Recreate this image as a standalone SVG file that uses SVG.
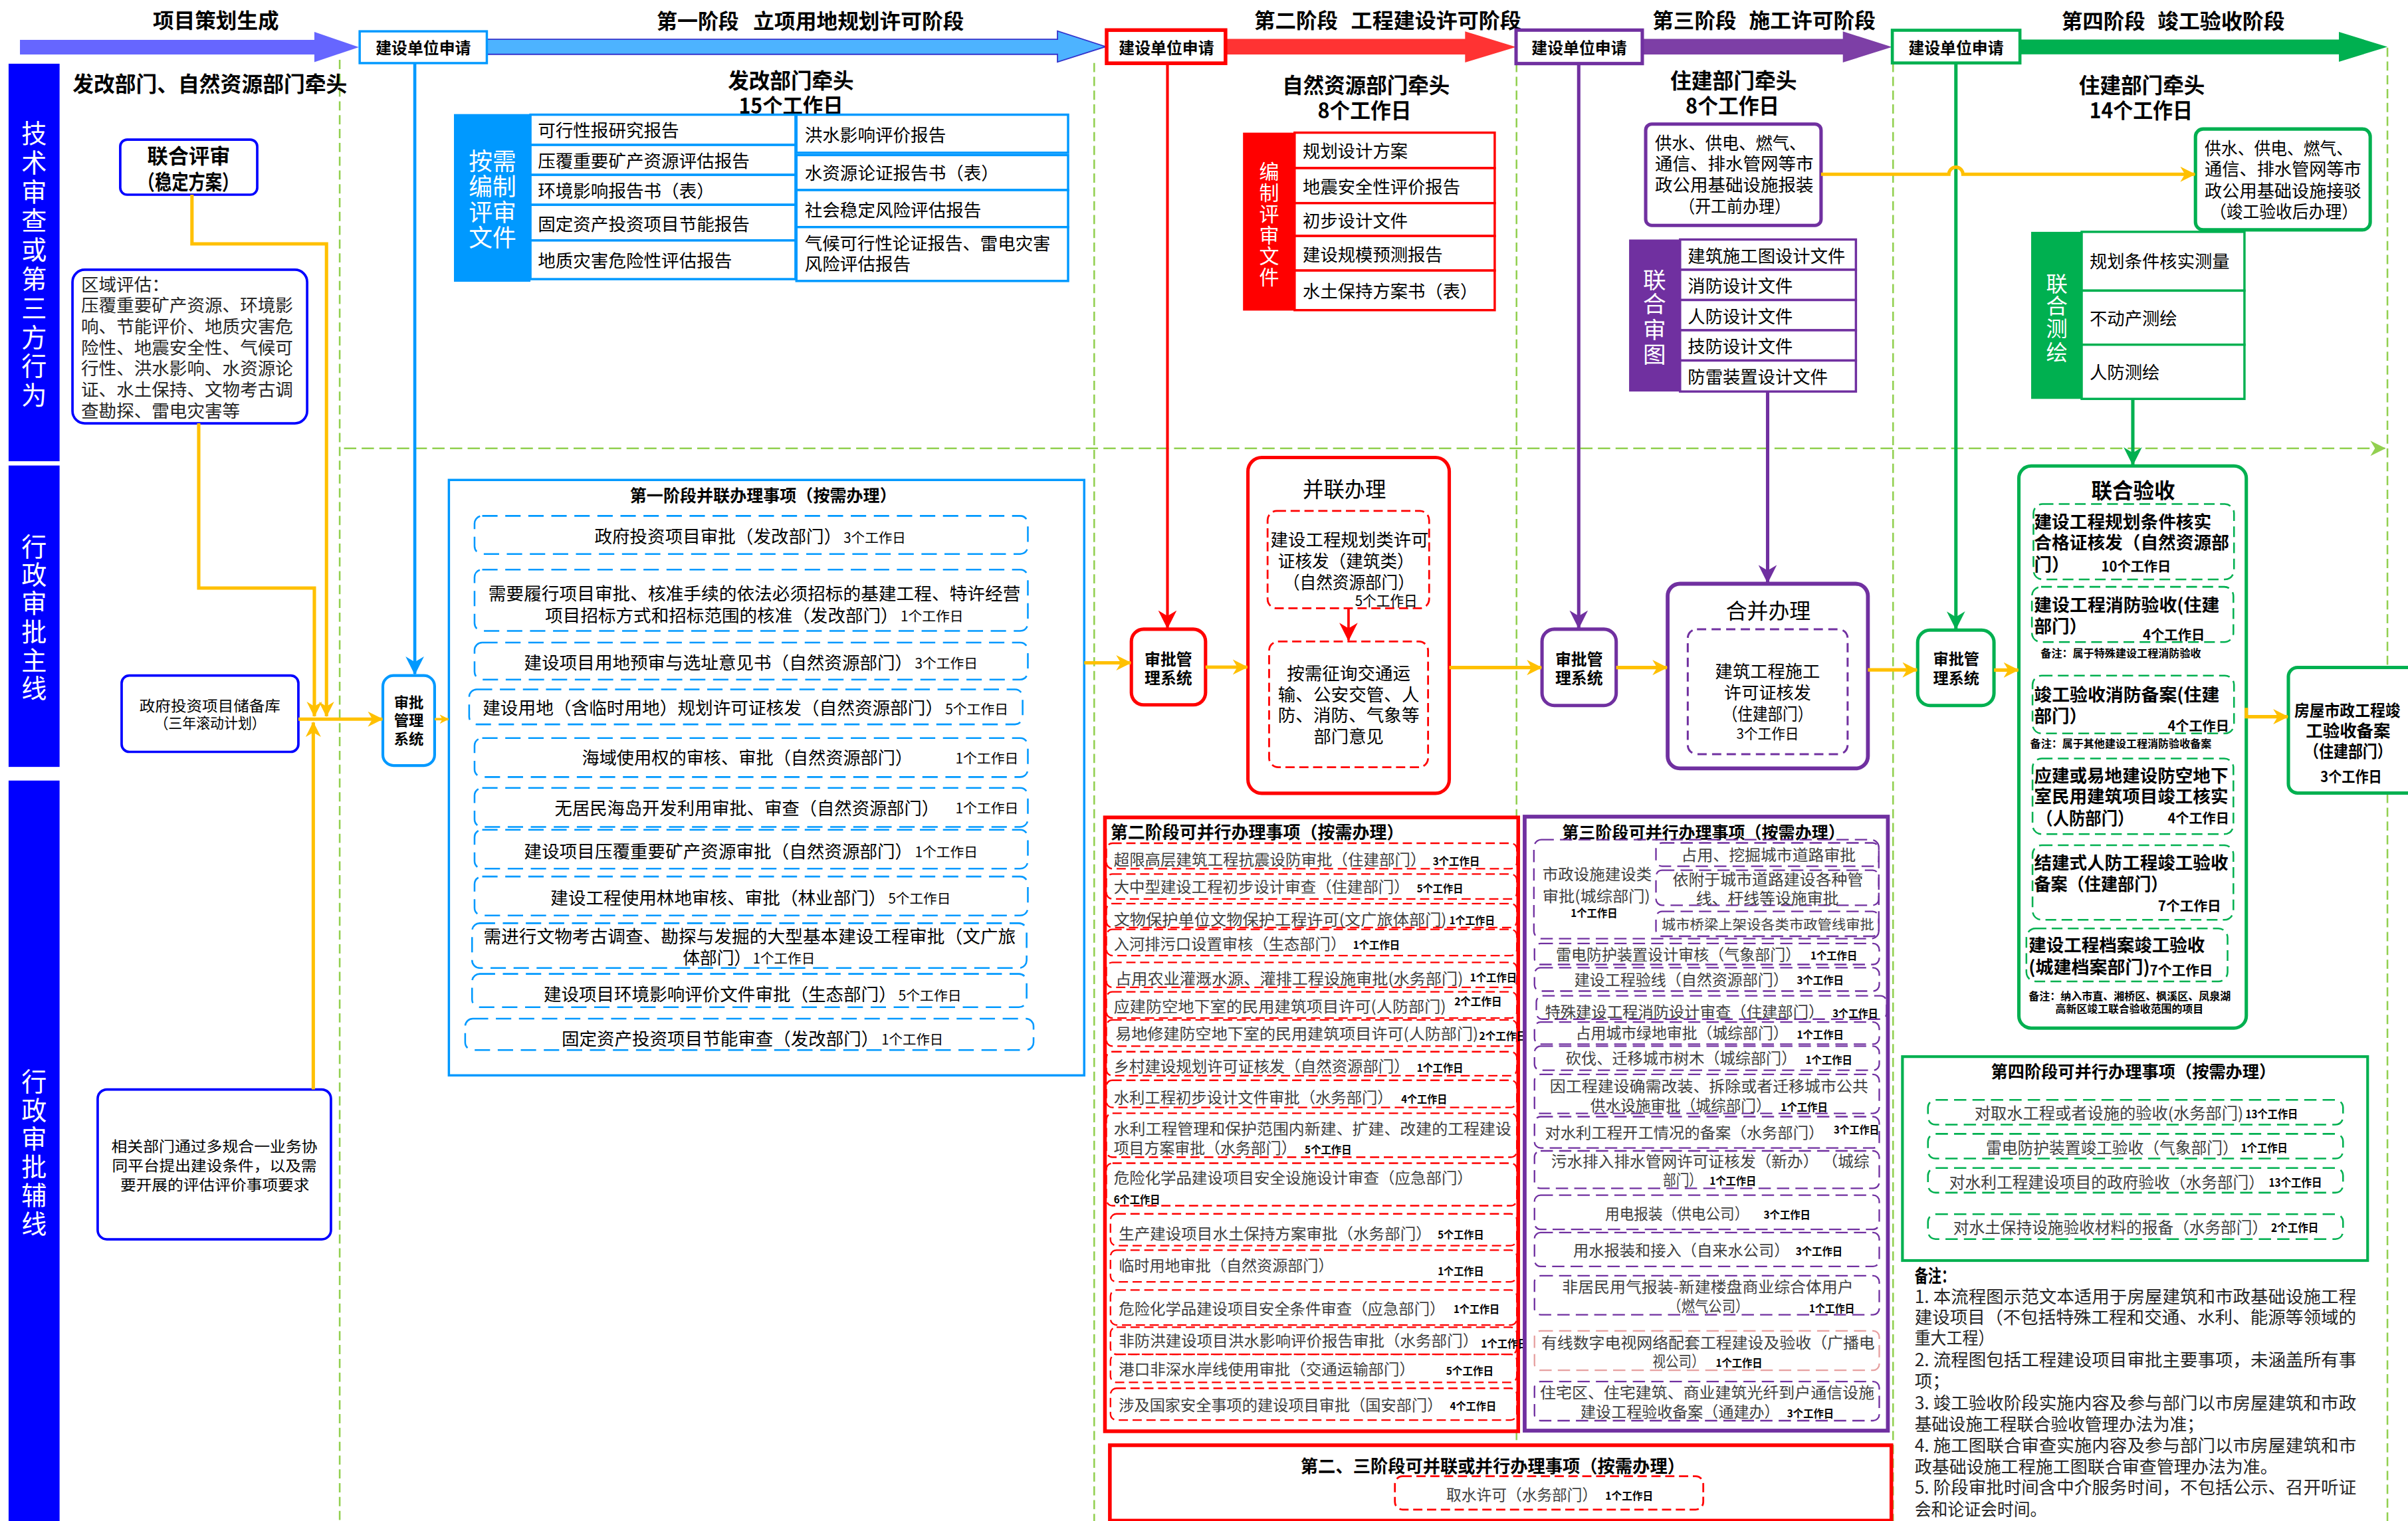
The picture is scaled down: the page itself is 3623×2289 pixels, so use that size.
<svg xmlns="http://www.w3.org/2000/svg" width="3623" height="2289" viewBox="0 0 3623 2289">
<defs>
<style>
text{font-family:"Noto Sans CJK SC","Noto Sans",sans-serif;dominant-baseline:central;fill:#000}
.b{font-weight:bold}
.m{text-anchor:middle}
.w{fill:#fff}
.g{fill:#404040}
.d{fill:#262626}
.guide{stroke:#92D050;stroke-width:1.1;stroke-dasharray:6 3;fill:none}
.yl{stroke:#FFC000;stroke-width:2.2;fill:none;marker-end:url(#ay)}
.cb{fill:#fff;stroke:#0099FF;stroke-width:1.5}
.cr{fill:#fff;stroke:#FF0000;stroke-width:1.5}
.cp{fill:#fff;stroke:#7030A0;stroke-width:1.5}
.cg{fill:#fff;stroke:#00B050;stroke-width:1.5}
.db{fill:none;stroke:#0099FF;stroke-width:1.1;stroke-dasharray:10 5}
.dr{fill:none;stroke:#FF0000;stroke-width:1;stroke-dasharray:6 3}
.dp{fill:none;stroke:#7030A0;stroke-width:1;stroke-dasharray:8 4}
.dg{fill:none;stroke:#00B050;stroke-width:1.1;stroke-dasharray:7 3.5}
.nb{fill:#fff;stroke:#0000FF;stroke-width:1.6}
</style>
<marker id="ay" viewBox="0 0 10 10" refX="9.5" refY="5" markerWidth="10" markerHeight="10" markerUnits="userSpaceOnUse" orient="auto"><path d="M0,0L10,5L0,10L3,5z" fill="#FFC000"/></marker>
<marker id="ays" viewBox="0 0 10 10" refX="9.5" refY="5" markerWidth="6" markerHeight="7" markerUnits="userSpaceOnUse" orient="auto"><path d="M0,0L10,5L0,10L3,5z" fill="#FFC000"/></marker>
<marker id="ab" viewBox="0 0 10 10" refX="9.5" refY="5" markerWidth="12" markerHeight="12" markerUnits="userSpaceOnUse" orient="auto"><path d="M0,0L10,5L0,10L3,5z" fill="#0099FF"/></marker>
<marker id="ar" viewBox="0 0 10 10" refX="9.5" refY="5" markerWidth="12" markerHeight="12" markerUnits="userSpaceOnUse" orient="auto"><path d="M0,0L10,5L0,10L3,5z" fill="#FF0000"/></marker>
<marker id="ap" viewBox="0 0 10 10" refX="9.5" refY="5" markerWidth="12" markerHeight="12" markerUnits="userSpaceOnUse" orient="auto"><path d="M0,0L10,5L0,10L3,5z" fill="#7030A0"/></marker>
<marker id="ag" viewBox="0 0 10 10" refX="9.5" refY="5" markerWidth="12" markerHeight="12" markerUnits="userSpaceOnUse" orient="auto"><path d="M0,0L10,5L0,10L3,5z" fill="#00B050"/></marker>
<marker id="al" viewBox="0 0 10 10" refX="9.5" refY="5" markerWidth="11" markerHeight="10" markerUnits="userSpaceOnUse" orient="auto"><path d="M0,0L10,5L0,10L3,5z" fill="#92D050"/></marker>
</defs>
<rect width="3623" height="2289" fill="#fff"/>
<g transform="scale(2.3106)">

<g id="guides">
<path class="guide" d="M221.2,39V991"/>
<path class="guide" d="M712.5,41V991"/>
<path class="guide" d="M987.5,41V991"/>
<path class="guide" d="M1232.7,41V991"/>
<path class="guide" d="M1554.6,31V991"/>
<path class="guide" d="M224,292H1553" style="stroke-dasharray:8 3.5;marker-end:url(#al)"/>
</g>

<g id="header">
<text class="b m" x="140.6" y="12.5" font-size="13.5" textLength="82" lengthAdjust="spacingAndGlyphs">项目策划生成</text>
<polygon points="13,26 204.7,26 204.7,20.8 233.7,30.7 204.7,40.5 204.7,35.5 13,35.5" fill="#6666FF"/>
<text class="b" x="427.6" y="12.6" font-size="13.5" textLength="53.6" lengthAdjust="spacingAndGlyphs">第一阶段</text>
<text class="b" x="490.5" y="12.6" font-size="13.5" textLength="137.2" lengthAdjust="spacingAndGlyphs">立项用地规划许可阶段</text>
<polygon points="317,25.6 688.6,25.6 688.6,20.2 720,30.4 688.6,40.4 688.6,35.4 317,35.4" fill="#4DB3FF" stroke="#3333CC" stroke-width="0.8"/>
<text class="b" x="816.7" y="12.4" font-size="13.5" textLength="54.5" lengthAdjust="spacingAndGlyphs">第二阶段</text>
<text class="b" x="879.7" y="12.4" font-size="13.5" textLength="110.9" lengthAdjust="spacingAndGlyphs">工程建设许可阶段</text>
<polygon points="798,25.3 954,25.3 954,20.5 987.2,30.6 954,40.7 954,35.5 798,35.5" fill="#FF3333"/>
<text class="b" x="1076" y="12.4" font-size="13.5" textLength="54.7" lengthAdjust="spacingAndGlyphs">第三阶段</text>
<text class="b" x="1138.9" y="12.4" font-size="13.5" textLength="82.4" lengthAdjust="spacingAndGlyphs">施工许可阶段</text>
<polygon points="1069.4,25.3 1200,25.3 1200,20.5 1232,30.6 1200,40.7 1200,35.5 1069.4,35.5" fill="#7D3FA6"/>
<text class="b" x="1342.4" y="12.6" font-size="13.5" textLength="54.6" lengthAdjust="spacingAndGlyphs">第四阶段</text>
<text class="b" x="1404.8" y="12.6" font-size="13.5" textLength="83" lengthAdjust="spacingAndGlyphs">竣工验收阶段</text>
<polygon points="1315.3,25.7 1523,25.7 1523,20.8 1554.6,30.5 1523,40.2 1523,35.4 1315.3,35.4" fill="#00B050"/>
</g>

<g id="apply1">
<rect x="234.2" y="20.4" width="82.8" height="20.7" fill="#fff" stroke="#0099FF" stroke-width="1.5"/>
<text class="b m" x="275.6" y="30.7" font-size="10.5" textLength="62" lengthAdjust="spacingAndGlyphs">建设单位申请</text>
</g>
<g id="apply2">
<rect x="720.6" y="19.6" width="77.4" height="21.6" fill="#fff" stroke="#FF0000" stroke-width="2.4"/>
<text class="b m" x="759.5" y="30.5" font-size="10.5" textLength="62" lengthAdjust="spacingAndGlyphs">建设单位申请</text>
</g>
<g id="apply3">
<rect x="987.2" y="19.6" width="82.2" height="21.8" fill="#fff" stroke="#7030A0" stroke-width="2.2"/>
<text class="b m" x="1028.3" y="30.5" font-size="10.5" textLength="62" lengthAdjust="spacingAndGlyphs">建设单位申请</text>
</g>
<g id="apply4">
<rect x="1232.2" y="19.7" width="83.1" height="21.3" fill="#fff" stroke="#00B050" stroke-width="2"/>
<text class="b m" x="1273.7" y="30.4" font-size="10.5" textLength="62" lengthAdjust="spacingAndGlyphs">建设单位申请</text>
</g>

<g id="leads">
<text class="b" x="47.3" y="53.5" font-size="13.7" textLength="178.7" lengthAdjust="spacingAndGlyphs">发改部门、自然资源部门牵头</text>
<text class="b" x="474" y="51.6" font-size="13.7" textLength="82" lengthAdjust="spacingAndGlyphs">发改部门牵头</text>
<text class="b" x="481" y="67.8" font-size="13.7" textLength="68" lengthAdjust="spacingAndGlyphs">15个工作日</text>
<text class="b" x="835" y="54.7" font-size="13.7" textLength="109" lengthAdjust="spacingAndGlyphs">自然资源部门牵头</text>
<text class="b" x="858" y="71" font-size="13.7" textLength="61" lengthAdjust="spacingAndGlyphs">8个工作日</text>
<text class="b" x="1087.6" y="51.3" font-size="13.7" textLength="82.4" lengthAdjust="spacingAndGlyphs">住建部门牵头</text>
<text class="b" x="1097.6" y="67.8" font-size="13.7" textLength="61" lengthAdjust="spacingAndGlyphs">8个工作日</text>
<text class="b" x="1353.7" y="54.6" font-size="13.7" textLength="82" lengthAdjust="spacingAndGlyphs">住建部门牵头</text>
<text class="b" x="1360.6" y="71" font-size="13.7" textLength="67.2" lengthAdjust="spacingAndGlyphs">14个工作日</text>
</g>

<g id="lanes">
<rect x="5.6" y="41.5" width="33.2" height="258.9" fill="#0000FF"/>
<rect x="5.6" y="303.2" width="33.2" height="196.3" fill="#0000FF"/>
<rect x="5.6" y="508.4" width="33.2" height="486" fill="#0000FF"/>
<text class="m w" font-size="16.5"><tspan x="22.2" y="85.8">技</tspan><tspan x="22.2" y="104.7">术</tspan><tspan x="22.2" y="123.7">审</tspan><tspan x="22.2" y="142.6">查</tspan><tspan x="22.2" y="161.6">或</tspan><tspan x="22.2" y="180.5">第</tspan><tspan x="22.2" y="199.4">三</tspan><tspan x="22.2" y="218.4">方</tspan><tspan x="22.2" y="237.3">行</tspan><tspan x="22.2" y="256.3">为</tspan></text>
<text class="m w" font-size="16.5"><tspan x="22.2" y="354.7">行</tspan><tspan x="22.2" y="373.2">政</tspan><tspan x="22.2" y="391.7">审</tspan><tspan x="22.2" y="410.2">批</tspan><tspan x="22.2" y="428.7">主</tspan><tspan x="22.2" y="447.2">线</tspan></text>
<text class="m w" font-size="16.5"><tspan x="22.2" y="703.3">行</tspan><tspan x="22.2" y="721.8">政</tspan><tspan x="22.2" y="740.3">审</tspan><tspan x="22.2" y="758.8">批</tspan><tspan x="22.2" y="777.3">辅</tspan><tspan x="22.2" y="795.8">线</tspan></text>
</g>

<g id="joint-review">
<rect class="nb" x="78.3" y="90.9" width="89.2" height="35.9" rx="4.5"/>
<text class="b m" x="122.9" y="100.8" font-size="13.5" textLength="54" lengthAdjust="spacingAndGlyphs">联合评审</text>
<text class="b m" x="122.7" y="117.5" font-size="13.5" textLength="65.7" lengthAdjust="spacingAndGlyphs">（稳定方案）</text>
</g>

<g id="regional">
<rect class="nb" x="47.2" y="175.7" width="152.8" height="100" rx="8"/>
<text class="d" x="52.8" y="184.4" font-size="11.5">区域评估：</text>
<text class="d" x="52.8" y="198.1" font-size="11.5" textLength="138" lengthAdjust="spacingAndGlyphs">压覆重要矿产资源、环境影</text>
<text class="d" x="52.8" y="211.8" font-size="11.5" textLength="138" lengthAdjust="spacingAndGlyphs">响、节能评价、地质灾害危</text>
<text class="d" x="52.8" y="225.5" font-size="11.5" textLength="138" lengthAdjust="spacingAndGlyphs">险性、地震安全性、气候可</text>
<text class="d" x="52.8" y="239.2" font-size="11.5" textLength="138" lengthAdjust="spacingAndGlyphs">行性、洪水影响、水资源论</text>
<text class="d" x="52.8" y="252.9" font-size="11.5" textLength="138" lengthAdjust="spacingAndGlyphs">证、水土保持、文物考古调</text>
<text class="d" x="52.8" y="266.6" font-size="11.5" textLength="103.5" lengthAdjust="spacingAndGlyphs">查勘探、雷电灾害等</text>
</g>

<g id="reserve">
<rect class="nb" x="79.2" y="440" width="115.1" height="49.7" rx="5"/>
<text class="m" x="136.7" y="458.8" font-size="9.5" fill="#333" textLength="91.8" lengthAdjust="spacingAndGlyphs">政府投资项目储备库</text>
<text class="m" x="136.8" y="470.4" font-size="9.5" fill="#333" textLength="72.4" lengthAdjust="spacingAndGlyphs">（三年滚动计划）</text>
</g>

<g id="aux">
<rect class="nb" x="63.6" y="709.6" width="151.9" height="97.6" rx="6"/>
<text class="m" x="139.6" y="746" font-size="9.5" fill="#333" textLength="134.2" lengthAdjust="spacingAndGlyphs">相关部门通过多规合一业务协</text>
<text class="m" x="139.6" y="758.4" font-size="9.5" fill="#333" textLength="133.3" lengthAdjust="spacingAndGlyphs">同平台提出建设条件，以及需</text>
<text class="m" x="139.9" y="770.8" font-size="9.5" fill="#333" textLength="123.2" lengthAdjust="spacingAndGlyphs">要开展的评估评价事项要求</text>
</g>

<g id="sys1">
<rect x="249.3" y="440" width="33.7" height="58.6" rx="7" fill="#fff" stroke="#0099FF" stroke-width="1.8"/>
<text class="b m" x="266.2" y="456.6" font-size="9.5" textLength="19.4" lengthAdjust="spacingAndGlyphs">审批</text>
<text class="b m" x="266.2" y="468.4" font-size="9.5" textLength="19.4" lengthAdjust="spacingAndGlyphs">管理</text>
<text class="b m" x="266.2" y="480.8" font-size="9.5" textLength="19.4" lengthAdjust="spacingAndGlyphs">系统</text>
</g>

<g id="docs1">
<rect x="295.6" y="74.3" width="49.8" height="109.2" fill="#0099FF"/>
<text class="m w" font-size="15.5"><tspan x="320.7" y="103.9">按需</tspan><tspan x="320.7" y="120.4">编制</tspan><tspan x="320.7" y="137">评审</tspan><tspan x="320.7" y="153.6">文件</tspan></text>
<rect class="cb" x="345.4" y="74.7" width="172.6" height="19.7"/>
<rect class="cb" x="345.4" y="94.4" width="172.6" height="19.5"/>
<rect class="cb" x="345.4" y="113.9" width="172.6" height="19.5"/>
<rect class="cb" x="345.4" y="133.4" width="172.6" height="23.2"/>
<rect class="cb" x="345.4" y="156.6" width="172.6" height="25.2"/>
<rect class="cb" x="518.6" y="74.7" width="176.9" height="24.8"/>
<rect class="cb" x="518.6" y="101" width="176.9" height="22.8"/>
<rect class="cb" x="518.6" y="123.8" width="176.9" height="24.1"/>
<rect class="cb" x="518.6" y="147.9" width="176.9" height="35.1"/>
<text x="350.2" y="84.3" font-size="11.5" fill="#333">可行性报研究报告</text>
<text x="350.2" y="104" font-size="11.5" fill="#333">压覆重要矿产资源评估报告</text>
<text x="350.2" y="123.6" font-size="11.5" fill="#333">环境影响报告书（表）</text>
<text x="350.2" y="145" font-size="11.5" fill="#333">固定资产投资项目节能报告</text>
<text x="350.2" y="169.2" font-size="11.5" fill="#333">地质灾害危险性评估报告</text>
<text x="524" y="87" font-size="11.5" fill="#333">洪水影响评价报告</text>
<text x="524" y="112" font-size="11.5" fill="#333">水资源论证报告书（表）</text>
<text x="524" y="136" font-size="11.5" fill="#333">社会稳定风险评估报告</text>
<text x="524" y="157.7" font-size="11.5" fill="#333" textLength="160" lengthAdjust="spacingAndGlyphs">气候可行性论证报告、雷电灾害</text>
<text x="524" y="171.3" font-size="11.5" fill="#333">风险评估报告</text>
</g>

<g id="docs2">
<rect x="809.4" y="86.4" width="33.6" height="115.9" fill="#FF0000"/>
<text class="m w" font-size="13"><tspan x="826.4" y="110.7">编</tspan><tspan x="826.4" y="124.7">制</tspan><tspan x="826.4" y="138.6">评</tspan><tspan x="826.4" y="152.3">审</tspan><tspan x="826.4" y="165.8">文</tspan><tspan x="826.4" y="179.4">件</tspan></text>
<rect class="cr" x="843" y="86.4" width="130.3" height="23.1"/>
<rect class="cr" x="843" y="109.5" width="130.3" height="22.8"/>
<rect class="cr" x="843" y="132.3" width="130.3" height="21.4"/>
<rect class="cr" x="843" y="153.7" width="130.3" height="22.5"/>
<rect class="cr" x="843" y="176.2" width="130.3" height="25.8"/>
<text x="848.3" y="97.5" font-size="11.4" fill="#333">规划设计方案</text>
<text x="848.3" y="120.9" font-size="11.4" fill="#333">地震安全性评价报告</text>
<text x="848.3" y="143" font-size="11.4" fill="#333">初步设计文件</text>
<text x="848.3" y="165" font-size="11.4" fill="#333">建设规模预测报告</text>
<text x="848.3" y="189.1" font-size="11.4" fill="#333">水土保持方案书（表）</text>
</g>

<g id="utility3">
<rect x="1071.6" y="80.8" width="114.2" height="66" rx="4" fill="#fff" stroke="#7030A0" stroke-width="2.2"/>
<text x="1077.6" y="92.4" font-size="11.4" fill="#333" textLength="98.4" lengthAdjust="spacingAndGlyphs">供水、供电、燃气、</text>
<text x="1077.6" y="106" font-size="11.4" fill="#333" textLength="103.3" lengthAdjust="spacingAndGlyphs">通信、排水管网等市</text>
<text x="1077.6" y="119.8" font-size="11.4" fill="#333" textLength="103.3" lengthAdjust="spacingAndGlyphs">政公用基础设施报装</text>
<text class="m" x="1129.6" y="133.5" font-size="11.4" fill="#333" textLength="72.6" lengthAdjust="spacingAndGlyphs">（开工前办理）</text>
</g>

<g id="drawings3">
<rect x="1060.8" y="156" width="33.2" height="99" fill="#7030A0"/>
<text class="m w" font-size="15"><tspan x="1077.4" y="181.2">联</tspan><tspan x="1077.4" y="196.8">合</tspan><tspan x="1077.4" y="213.6">审</tspan><tspan x="1077.4" y="230">图</tspan></text>
<rect class="cp" x="1094" y="156" width="114.5" height="19.7"/>
<rect class="cp" x="1094" y="175.7" width="114.5" height="19.7"/>
<rect class="cp" x="1094" y="195.4" width="114.5" height="19.7"/>
<rect class="cp" x="1094" y="215.1" width="114.5" height="19.7"/>
<rect class="cp" x="1094" y="234.8" width="114.5" height="20.2"/>
<text x="1099" y="165.9" font-size="11.4" fill="#333">建筑施工图设计文件</text>
<text x="1099" y="185.6" font-size="11.4" fill="#333">消防设计文件</text>
<text x="1099" y="205.3" font-size="11.4" fill="#333">人防设计文件</text>
<text x="1099" y="225" font-size="11.4" fill="#333">技防设计文件</text>
<text x="1099" y="244.9" font-size="11.4" fill="#333">防雷装置设计文件</text>
</g>

<g id="utility4">
<rect x="1429.6" y="84" width="113.8" height="65.7" rx="5" fill="#fff" stroke="#00B050" stroke-width="2.2"/>
<text x="1435.6" y="96" font-size="11.3" fill="#333" textLength="96.5" lengthAdjust="spacingAndGlyphs">供水、供电、燃气、</text>
<text x="1435.6" y="109.7" font-size="11.3" fill="#333" textLength="102" lengthAdjust="spacingAndGlyphs">通信、排水管网等市</text>
<text x="1435.6" y="123.6" font-size="11.3" fill="#333" textLength="102" lengthAdjust="spacingAndGlyphs">政公用基础设施接驳</text>
<text x="1439" y="137.2" font-size="11.3" fill="#333" textLength="96.5" lengthAdjust="spacingAndGlyphs">（竣工验收后办理）</text>
</g>

<g id="survey4">
<rect x="1322.6" y="151" width="32.9" height="108.8" fill="#00B050"/>
<text class="m w" font-size="14"><tspan x="1339.3" y="183.5">联</tspan><tspan x="1339.3" y="198">合</tspan><tspan x="1339.3" y="212.6">测</tspan><tspan x="1339.3" y="228">绘</tspan></text>
<rect class="cg" x="1355.5" y="151" width="106" height="38.3"/>
<rect class="cg" x="1355.5" y="189.3" width="106" height="35.2"/>
<rect class="cg" x="1355.5" y="224.5" width="106" height="35.3"/>
<text x="1360.7" y="169.6" font-size="11.4" fill="#333">规划条件核实测量</text>
<text x="1360.7" y="206.7" font-size="11.4" fill="#333">不动产测绘</text>
<text x="1360.7" y="241.5" font-size="11.4" fill="#333">人防测绘</text>
</g>

<g id="parallel1">
<rect x="292.3" y="312.6" width="413.7" height="387.8" fill="#fff" stroke="#0099FF" stroke-width="1.5"/>
<text class="b" x="410.2" y="322" font-size="10.8" textLength="173.5" lengthAdjust="spacingAndGlyphs">第一阶段并联办理事项（按需办理）</text>
<rect class="db" x="309" y="336" width="360.3" height="24.8" rx="5"/>
<text x="387.1" y="348.7" font-size="11.5" textLength="160.9" lengthAdjust="spacingAndGlyphs">政府投资项目审批（发改部门）</text>
<text x="549.3" y="349.5" font-size="9" textLength="40.5" lengthAdjust="spacingAndGlyphs">3个工作日</text>
<rect class="db" x="309" y="371" width="360.3" height="39.9" rx="5"/>
<text x="318" y="386" font-size="11.5" textLength="346.5" lengthAdjust="spacingAndGlyphs">需要履行项目审批、核准手续的依法必须招标的基建工程、特许经营</text>
<text x="355" y="400" font-size="11.5" textLength="230" lengthAdjust="spacingAndGlyphs">项目招标方式和招标范围的核准（发改部门）</text>
<text x="586.4" y="400.8" font-size="9" textLength="41" lengthAdjust="spacingAndGlyphs">1个工作日</text>
<rect class="db" x="309" y="418.5" width="360.3" height="24.1" rx="5"/>
<text x="341.3" y="430.7" font-size="11.5" textLength="253" lengthAdjust="spacingAndGlyphs">建设项目用地预审与选址意见书（自然资源部门）</text>
<text x="595.7" y="431.4" font-size="9" textLength="41" lengthAdjust="spacingAndGlyphs">3个工作日</text>
<rect class="db" x="305.5" y="449" width="360.4" height="22.8" rx="5"/>
<text x="314.3" y="460.4" font-size="11.5" textLength="299.9" lengthAdjust="spacingAndGlyphs">建设用地（含临时用地）规划许可证核发（自然资源部门）</text>
<text x="615.5" y="461.2" font-size="9" textLength="41.1" lengthAdjust="spacingAndGlyphs">5个工作日</text>
<rect class="db" x="309" y="480.7" width="360.3" height="25.4" rx="5"/>
<text x="378.9" y="492.9" font-size="11.5" textLength="215.4" lengthAdjust="spacingAndGlyphs">海域使用权的审核、审批（自然资源部门）</text>
<text x="622.1" y="493.3" font-size="9" textLength="41.1" lengthAdjust="spacingAndGlyphs">1个工作日</text>
<rect class="db" x="309" y="513.2" width="360.3" height="25.4" rx="5"/>
<text x="361.2" y="525.6" font-size="11.5" textLength="250.4" lengthAdjust="spacingAndGlyphs">无居民海岛开发利用审批、审查（自然资源部门）</text>
<text x="622.1" y="526" font-size="9" textLength="41.1" lengthAdjust="spacingAndGlyphs">1个工作日</text>
<rect class="db" x="309" y="540.4" width="360.3" height="25.4" rx="5"/>
<text x="341.3" y="553.8" font-size="11.5" textLength="253" lengthAdjust="spacingAndGlyphs">建设项目压覆重要矿产资源审批（自然资源部门）</text>
<text x="595.7" y="554.6" font-size="9" textLength="41" lengthAdjust="spacingAndGlyphs">1个工作日</text>
<rect class="db" x="309" y="570.9" width="360.3" height="25.4" rx="5"/>
<text x="358.5" y="584" font-size="11.5" textLength="218.6" lengthAdjust="spacingAndGlyphs">建设工程使用林地审核、审批（林业部门）</text>
<text x="578.4" y="584.8" font-size="9" textLength="40.6" lengthAdjust="spacingAndGlyphs">5个工作日</text>
<rect class="db" x="307.4" y="601.3" width="361.1" height="29.2" rx="5"/>
<text x="314.8" y="609" font-size="11.5" textLength="346.6" lengthAdjust="spacingAndGlyphs">需进行文物考古调查、勘探与发掘的大型基本建设工程审批（文广旅</text>
<text x="444.6" y="622.9" font-size="11.5" textLength="44.5" lengthAdjust="spacingAndGlyphs">体部门）</text>
<text x="490.2" y="623.7" font-size="9" textLength="40.5" lengthAdjust="spacingAndGlyphs">1个工作日</text>
<rect class="db" x="307.4" y="634.3" width="361.1" height="21.7" rx="5"/>
<text x="354" y="647" font-size="11.5" textLength="229.7" lengthAdjust="spacingAndGlyphs">建设项目环境影响评价文件审批（生态部门）</text>
<text x="585" y="647.8" font-size="9" textLength="41.1" lengthAdjust="spacingAndGlyphs">5个工作日</text>
<rect class="db" x="302.9" y="663.5" width="370.1" height="20.4" rx="5"/>
<text x="365.7" y="675.7" font-size="11.5" textLength="206.6" lengthAdjust="spacingAndGlyphs">固定资产投资项目节能审查（发改部门）</text>
<text x="574" y="676.5" font-size="9" textLength="40.2" lengthAdjust="spacingAndGlyphs">1个工作日</text>
</g>

<g id="sys2">
<rect x="736.7" y="409.8" width="48.3" height="49.3" rx="8" fill="#fff" stroke="#FF0000" stroke-width="2.2"/>
<text class="b m" x="760.8" y="428.6" font-size="10.3" textLength="31" lengthAdjust="spacingAndGlyphs">审批管</text>
<text class="b m" x="760.8" y="441" font-size="10.3" textLength="31" lengthAdjust="spacingAndGlyphs">理系统</text>
</g>

<g id="parallel-handling">
<rect x="812.6" y="298" width="131.1" height="218.7" rx="9" fill="#fff" stroke="#FF0000" stroke-width="2.2"/>
<text class="m" x="875.4" y="317.6" font-size="14" textLength="54.2" lengthAdjust="spacingAndGlyphs">并联办理</text>
<rect class="dr" x="825.4" y="332.8" width="105.2" height="63.4" rx="6" style="stroke-width:1.2"/>
<text class="m" x="878.8" y="350.6" font-size="11.5" textLength="103" lengthAdjust="spacingAndGlyphs">建设工程规划类许可</text>
<text class="m" x="876.5" y="364.5" font-size="11.5" textLength="88.7" lengthAdjust="spacingAndGlyphs">证核发（建筑类）</text>
<text class="m" x="878.3" y="378.4" font-size="11.5" textLength="85.2" lengthAdjust="spacingAndGlyphs">（自然资源部门）</text>
<text x="882.3" y="390.7" font-size="9.5" textLength="40.7" lengthAdjust="spacingAndGlyphs">5个工作日</text>
<rect class="dr" x="826.4" y="417.8" width="103.5" height="81.9" rx="6" style="stroke-width:1.2"/>
<text class="m" x="878.2" y="437.9" font-size="11.5" textLength="80.4" lengthAdjust="spacingAndGlyphs">按需征询交通运</text>
<text class="m" x="878.2" y="451.8" font-size="11.5" textLength="92.1" lengthAdjust="spacingAndGlyphs">输、公安交管、人</text>
<text class="m" x="878.2" y="465" font-size="11.5" textLength="92.1" lengthAdjust="spacingAndGlyphs">防、消防、气象等</text>
<text class="m" x="878.2" y="478.9" font-size="11.5" textLength="45.6" lengthAdjust="spacingAndGlyphs">部门意见</text>
</g>

<g id="sys3">
<rect x="1004.1" y="409.8" width="48.3" height="49.7" rx="8" fill="#fff" stroke="#7030A0" stroke-width="2.2"/>
<text class="b m" x="1028.2" y="428.6" font-size="10.3" textLength="31" lengthAdjust="spacingAndGlyphs">审批管</text>
<text class="b m" x="1028.2" y="441" font-size="10.3" textLength="31" lengthAdjust="spacingAndGlyphs">理系统</text>
</g>

<g id="merged-handling">
<rect x="1085.9" y="380.2" width="130.4" height="120.3" rx="8" fill="#fff" stroke="#7030A0" stroke-width="2.5"/>
<text class="m" x="1151.4" y="396.6" font-size="14" textLength="55.2" lengthAdjust="spacingAndGlyphs">合并办理</text>
<rect x="1099" y="409.8" width="104.1" height="81.4" rx="6" fill="none" stroke="#7030A0" stroke-width="1.3" stroke-dasharray="6 3.5"/>
<text class="m" x="1151" y="436.3" font-size="11.5" textLength="68.3" lengthAdjust="spacingAndGlyphs">建筑工程施工</text>
<text class="m" x="1151" y="450.3" font-size="11.5" textLength="56.6" lengthAdjust="spacingAndGlyphs">许可证核发</text>
<text class="m" x="1151" y="464.2" font-size="11.5" textLength="58.7" lengthAdjust="spacingAndGlyphs">（住建部门）</text>
<text class="m" x="1151" y="477.3" font-size="9.5" textLength="40.7" lengthAdjust="spacingAndGlyphs">3个工作日</text>
</g>

<g id="sys4">
<rect x="1248.7" y="410.4" width="49.7" height="49.1" rx="8" fill="#fff" stroke="#00B050" stroke-width="2.2"/>
<text class="b m" x="1273.8" y="428.4" font-size="10" textLength="30.1" lengthAdjust="spacingAndGlyphs">审批管</text>
<text class="b m" x="1273.8" y="440.8" font-size="10" textLength="30.1" lengthAdjust="spacingAndGlyphs">理系统</text>
</g>

<g id="joint-acceptance">
<rect x="1314.6" y="303.5" width="148.1" height="366.1" rx="8" fill="#fff" stroke="#00B050" stroke-width="2.2"/>
<text class="b m" x="1389" y="318.6" font-size="13.6" textLength="54.5" lengthAdjust="spacingAndGlyphs">联合验收</text>
<rect class="dg" x="1324.1" y="328.3" width="130.6" height="49.1" rx="6"/>
<text class="b" x="1324.5" y="339.2" font-size="11.5" textLength="115.5" lengthAdjust="spacingAndGlyphs">建设工程规划条件核实</text>
<text class="b" x="1324.5" y="352.6" font-size="11.5" textLength="127" lengthAdjust="spacingAndGlyphs">合格证核发（自然资源部</text>
<text class="b" x="1324.5" y="366.7" font-size="11.5">门）</text>
<text class="b" x="1368.3" y="368.4" font-size="9" textLength="45.3" lengthAdjust="spacingAndGlyphs">10个工作日</text>
<rect class="dg" x="1323.1" y="382.2" width="131.2" height="36" rx="6"/>
<text class="b" x="1324.5" y="393.4" font-size="11.5" textLength="120.7" lengthAdjust="spacingAndGlyphs">建设工程消防验收(住建</text>
<text class="b" x="1324.5" y="407.2" font-size="11.5">部门）</text>
<text class="b" x="1395.3" y="412.8" font-size="9" textLength="40.4" lengthAdjust="spacingAndGlyphs">4个工作日</text>
<text class="b" x="1328.8" y="425" font-size="7" textLength="104.4" lengthAdjust="spacingAndGlyphs">备注：属于特殊建设工程消防验收</text>
<rect class="dg" x="1323.5" y="440" width="131.2" height="37.7" rx="6"/>
<text class="b" x="1324.5" y="451.7" font-size="11.5" textLength="120.7" lengthAdjust="spacingAndGlyphs">竣工验收消防备案(住建</text>
<text class="b" x="1324.5" y="465.5" font-size="11.5">部门）</text>
<text class="b" x="1411.5" y="472.3" font-size="9" textLength="40" lengthAdjust="spacingAndGlyphs">4个工作日</text>
<text class="b" x="1322" y="483.8" font-size="7" textLength="118" lengthAdjust="spacingAndGlyphs">备注：属于其他建设工程消防验收备案</text>
<rect class="dg" x="1323.5" y="494" width="130.8" height="49.3" rx="6"/>
<text class="b" x="1324.5" y="504.4" font-size="11.5" textLength="126.4" lengthAdjust="spacingAndGlyphs">应建或易地建设防空地下</text>
<text class="b" x="1324.5" y="517.8" font-size="11.5" textLength="126.4" lengthAdjust="spacingAndGlyphs">室民用建筑项目竣工核实</text>
<text class="b" x="1326.2" y="532.3" font-size="11.5" textLength="63.2" lengthAdjust="spacingAndGlyphs">（人防部门）</text>
<text class="b" x="1411.5" y="532.3" font-size="9" textLength="40" lengthAdjust="spacingAndGlyphs">4个工作日</text>
<rect class="dg" x="1323.5" y="550.5" width="130.8" height="48.6" rx="6"/>
<text class="b" x="1324.5" y="561" font-size="11.5" textLength="126.4" lengthAdjust="spacingAndGlyphs">结建式人防工程竣工验收</text>
<text class="b" x="1324.5" y="574.8" font-size="11.5" textLength="87" lengthAdjust="spacingAndGlyphs">备案（住建部门）</text>
<text class="b" x="1405.2" y="589.4" font-size="9" textLength="41.1" lengthAdjust="spacingAndGlyphs">7个工作日</text>
<rect class="dg" x="1319.5" y="604.7" width="131" height="34.5" rx="6"/>
<text class="b" x="1321" y="614.9" font-size="11.5" textLength="114.7" lengthAdjust="spacingAndGlyphs">建设工程档案竣工验收</text>
<text class="b" x="1321" y="629" font-size="11.5" textLength="78.9" lengthAdjust="spacingAndGlyphs">(城建档案部门)</text>
<text class="b" x="1399.9" y="631.4" font-size="9" textLength="41.1" lengthAdjust="spacingAndGlyphs">7个工作日</text>
<text class="b m" x="1386.8" y="648.4" font-size="7" textLength="131.6" lengthAdjust="spacingAndGlyphs">备注：纳入市直、湘桥区、枫溪区、凤泉湖</text>
<text class="b m" x="1386.6" y="656.7" font-size="7" textLength="96.3" lengthAdjust="spacingAndGlyphs">高新区竣工联合验收范围的项目</text>
</g>

<g id="filing">
<rect x="1490.1" y="434.7" width="95" height="81.8" rx="6" fill="#fff" stroke="#00B050" stroke-width="2.2"/>
<text class="b m" x="1528.5" y="461.8" font-size="10.5" textLength="69" lengthAdjust="spacingAndGlyphs">房屋市政工程竣</text>
<text class="b m" x="1529" y="475.2" font-size="11" textLength="55" lengthAdjust="spacingAndGlyphs">工验收备案</text>
<text class="b m" x="1529" y="488.6" font-size="11" textLength="57" lengthAdjust="spacingAndGlyphs">（住建部门）</text>
<text class="b m" x="1531" y="505" font-size="9.6" textLength="40" lengthAdjust="spacingAndGlyphs">3个工作日</text>
</g>

<g id="parallel2">
<rect x="719.5" y="532.4" width="269.1" height="399.8" fill="#fff" stroke="#FF0000" stroke-width="2.4"/>
<text class="b" x="723.1" y="541.3" font-size="11.2" textLength="191.1" lengthAdjust="spacingAndGlyphs">第二阶段可并行办理事项（按需办理）</text>
<rect class="dr" x="720.4" y="549.2" width="267.3" height="16.6" rx="4"/>
<text class="g" x="725.2" y="559" font-size="10" textLength="203.3" lengthAdjust="spacingAndGlyphs">超限高层建筑工程抗震设防审批（住建部门）</text>
<text class="b" x="933" y="560.5" font-size="7" textLength="30.5" lengthAdjust="spacingAndGlyphs">3个工作日</text>
<rect class="dr" x="720.4" y="569.3" width="267.3" height="16.2" rx="4"/>
<text class="g" x="725.2" y="576.7" font-size="10" textLength="192.6" lengthAdjust="spacingAndGlyphs">大中型建设工程初步设计审查（住建部门）</text>
<text class="b" x="922.6" y="578.2" font-size="7" textLength="30.1" lengthAdjust="spacingAndGlyphs">5个工作日</text>
<rect class="dr" x="720.4" y="588.5" width="267.3" height="15.6" rx="4"/>
<text class="g" x="725.2" y="597.9" font-size="10" textLength="216.8" lengthAdjust="spacingAndGlyphs">文物保护单位文物保护工程许可(文广旅体部门)</text>
<text class="b" x="943.8" y="598.8" font-size="7" textLength="29.6" lengthAdjust="spacingAndGlyphs">1个工作日</text>
<rect class="dr" x="720.4" y="605.3" width="267.3" height="17.1" rx="4"/>
<text class="g" x="725.2" y="614.2" font-size="10" textLength="151.3" lengthAdjust="spacingAndGlyphs">入河排污口设置审核（生态部门）</text>
<text class="b" x="881" y="615" font-size="7" textLength="30.5" lengthAdjust="spacingAndGlyphs">1个工作日</text>
<rect class="dr" x="720.4" y="626.8" width="267.3" height="16.3" rx="4"/>
<text class="g" x="726.3" y="636.6" font-size="10" textLength="226.4" lengthAdjust="spacingAndGlyphs">占用农业灌溉水源、灌排工程设施审批(水务部门)</text>
<text class="b" x="957.2" y="636" font-size="7" textLength="30.5" lengthAdjust="spacingAndGlyphs">1个工作日</text>
<rect class="dr" x="720.4" y="646" width="267.3" height="17.1" rx="4"/>
<text class="g" x="725.2" y="654.9" font-size="10" textLength="216.4" lengthAdjust="spacingAndGlyphs">应建防空地下室的民用建筑项目许可(人防部门)</text>
<text class="b" x="947" y="651.9" font-size="7" textLength="30.9" lengthAdjust="spacingAndGlyphs">2个工作日</text>
<rect class="dr" x="720.4" y="664.3" width="267.3" height="17.1" rx="4"/>
<text class="g" x="726.3" y="672.6" font-size="10" textLength="236.3" lengthAdjust="spacingAndGlyphs">易地修建防空地下室的民用建筑项目许可(人防部门)</text>
<text class="b" x="963.2" y="674.1" font-size="7" textLength="30.8" lengthAdjust="spacingAndGlyphs">2个工作日</text>
<rect class="dr" x="720.4" y="685" width="267.3" height="15.6" rx="4"/>
<text class="g" x="725.2" y="693.8" font-size="10" textLength="192.6" lengthAdjust="spacingAndGlyphs">乡村建设规划许可证核发（自然资源部门）</text>
<text class="b" x="922.6" y="695" font-size="7" textLength="30.1" lengthAdjust="spacingAndGlyphs">1个工作日</text>
<rect class="dr" x="720.4" y="703.6" width="267.3" height="17.7" rx="4"/>
<text class="g" x="725.2" y="713.9" font-size="10" textLength="181.8" lengthAdjust="spacingAndGlyphs">水利工程初步设计文件审批（水务部门）</text>
<text class="b" x="912.4" y="715.4" font-size="7" textLength="29.9" lengthAdjust="spacingAndGlyphs">4个工作日</text>
<rect class="dr" x="720.4" y="725.1" width="267.3" height="28.6" rx="4"/>
<text class="g" x="725.2" y="734.5" font-size="10" textLength="258.9" lengthAdjust="spacingAndGlyphs">水利工程管理和保护范围内新建、扩建、改建的工程建设</text>
<text class="g" x="725.2" y="747.2" font-size="10" textLength="119" lengthAdjust="spacingAndGlyphs">项目方案审批（水务部门）</text>
<text class="b" x="849.6" y="748.4" font-size="7" textLength="30.5" lengthAdjust="spacingAndGlyphs">5个工作日</text>
<rect class="dr" x="720.4" y="757.6" width="267.3" height="27.7" rx="4"/>
<text class="g" x="725.2" y="766.4" font-size="10" textLength="233.8" lengthAdjust="spacingAndGlyphs">危险化学品建设项目安全设施设计审查（应急部门）</text>
<text class="b" x="725.2" y="780.9" font-size="7" textLength="30.2" lengthAdjust="spacingAndGlyphs">6个工作日</text>
<rect class="dr" x="723.1" y="790.6" width="264.6" height="20.7" rx="4"/>
<text class="g" x="728.5" y="803" font-size="10" textLength="203.6" lengthAdjust="spacingAndGlyphs">生产建设项目水土保持方案审批（水务部门）</text>
<text class="b" x="936.2" y="803.9" font-size="7" textLength="30" lengthAdjust="spacingAndGlyphs">5个工作日</text>
<rect class="dr" x="723.1" y="814.2" width="264.6" height="20.7" rx="4"/>
<text class="g" x="728.5" y="823.7" font-size="10" textLength="139.9" lengthAdjust="spacingAndGlyphs">临时用地审批（自然资源部门）</text>
<text class="b" x="936.2" y="827.5" font-size="7" textLength="30" lengthAdjust="spacingAndGlyphs">1个工作日</text>
<rect class="dr" x="723.1" y="840.2" width="264.6" height="22.8" rx="4"/>
<text class="g" x="728.5" y="851.7" font-size="10" textLength="212.6" lengthAdjust="spacingAndGlyphs">危险化学品建设项目安全条件审查（应急部门）</text>
<text class="b" x="946.5" y="852" font-size="7" textLength="29.9" lengthAdjust="spacingAndGlyphs">1个工作日</text>
<rect class="dr" x="723.1" y="864.4" width="264.6" height="17.7" rx="4"/>
<text class="g" x="728.5" y="872.6" font-size="10" textLength="234.1" lengthAdjust="spacingAndGlyphs">非防洪建设项目洪水影响评价报告审批（水务部门）</text>
<text class="b" x="964.4" y="874.7" font-size="7" textLength="30.5" lengthAdjust="spacingAndGlyphs">1个工作日</text>
<rect class="dr" x="723.1" y="882.1" width="264.6" height="18.3" rx="4"/>
<text class="g" x="728.5" y="891" font-size="10" textLength="192.9" lengthAdjust="spacingAndGlyphs">港口非深水岸线使用审批（交通运输部门）</text>
<text class="b" x="941.6" y="892.4" font-size="7" textLength="30.9" lengthAdjust="spacingAndGlyphs">5个工作日</text>
<rect class="dr" x="723.1" y="904.2" width="264.6" height="20.7" rx="4"/>
<text class="g" x="728.5" y="914.5" font-size="10" textLength="210.8" lengthAdjust="spacingAndGlyphs">涉及国家安全事项的建设项目审批（国安部门）</text>
<text class="b" x="944.1" y="915.4" font-size="7" textLength="30.2" lengthAdjust="spacingAndGlyphs">4个工作日</text>
</g>

<g id="parallel23">
<rect x="722.7" y="941.3" width="508.9" height="49.1" fill="#fff" stroke="#FF0000" stroke-width="2.4"/>
<text class="b" x="846.9" y="954" font-size="11.5" textLength="250.2" lengthAdjust="spacingAndGlyphs">第二、三阶段可并联或并行办理事项（按需办理）</text>
<rect class="dr" x="908.3" y="961.5" width="200.8" height="21.7" rx="5" style="stroke-width:1.2"/>
<text class="g" x="941.8" y="973.1" font-size="10" textLength="98.3" lengthAdjust="spacingAndGlyphs">取水许可（水务部门）</text>
<text class="b" x="1045.3" y="973.8" font-size="7" textLength="31.1" lengthAdjust="spacingAndGlyphs">1个工作日</text>
</g>

<g id="parallel3">
<rect x="992.8" y="531.9" width="236.5" height="399.9" fill="#fff" stroke="#7030A0" stroke-width="2.5"/>
<text class="b" x="1017.2" y="541.6" font-size="11" textLength="184.1" lengthAdjust="spacingAndGlyphs">第三阶段可并行办理事项（按需办理）</text>
<rect class="dp" x="998.8" y="546.9" width="224.6" height="64.5" rx="5"/>
<text class="g" x="1004.4" y="568.6" font-size="10" textLength="71.2" lengthAdjust="spacingAndGlyphs">市政设施建设类</text>
<text class="g" x="1004.4" y="583.1" font-size="10" textLength="70.1" lengthAdjust="spacingAndGlyphs">审批(城综部门)</text>
<text class="b" x="1022.8" y="594.3" font-size="7" textLength="30.4" lengthAdjust="spacingAndGlyphs">1个工作日</text>
<rect class="dp" x="1078.3" y="549" width="145.1" height="15.2" rx="4"/>
<text class="g m" x="1151.6" y="556.3" font-size="10" textLength="113.7" lengthAdjust="spacingAndGlyphs">占用、挖掘城市道路审批</text>
<rect class="dp" x="1078.3" y="566.8" width="145.1" height="22.8" rx="4"/>
<text class="g m" x="1151.2" y="572.1" font-size="10" textLength="124.1" lengthAdjust="spacingAndGlyphs">依附于城市道路建设各种管</text>
<text class="g m" x="1150.8" y="584.4" font-size="10" textLength="92.9" lengthAdjust="spacingAndGlyphs">线、杆线等设施审批</text>
<rect class="dp" x="1078.3" y="593.6" width="145.1" height="16.2" rx="4"/>
<text class="g m" x="1151.2" y="601.4" font-size="9" textLength="138.5" lengthAdjust="spacingAndGlyphs">城市桥梁上架设各类市政管线审批</text>
<rect class="dp" x="999.2" y="614.5" width="224.5" height="13.7" rx="4"/>
<text class="g" x="1013.2" y="621.1" font-size="10" textLength="159.3" lengthAdjust="spacingAndGlyphs">雷电防护装置设计审核（气象部门）</text>
<text class="b" x="1178.9" y="621.9" font-size="7" textLength="30.4" lengthAdjust="spacingAndGlyphs">1个工作日</text>
<rect class="dp" x="999.2" y="630.3" width="224.5" height="15.2" rx="4"/>
<text class="g" x="1025.2" y="637.6" font-size="10" textLength="139.3" lengthAdjust="spacingAndGlyphs">建设工程验线（自然资源部门）</text>
<text class="b" x="1170" y="638.1" font-size="7" textLength="30.5" lengthAdjust="spacingAndGlyphs">3个工作日</text>
<rect class="dp" x="1000.4" y="648.6" width="228.1" height="15.2" rx="4"/>
<text class="g" x="1006" y="658.3" font-size="10" textLength="181.7" lengthAdjust="spacingAndGlyphs">特殊建设工程消防设计审查（住建部门）</text>
<text class="b" x="1193.3" y="659.6" font-size="7" textLength="29.6" lengthAdjust="spacingAndGlyphs">3个工作日</text>
<rect class="dp" x="999.2" y="665.7" width="224.5" height="14.4" rx="4"/>
<text class="g" x="1026" y="672.2" font-size="10" textLength="138.5" lengthAdjust="spacingAndGlyphs">占用城市绿地审批（城综部门）</text>
<text class="b" x="1170" y="673.5" font-size="7" textLength="30.5" lengthAdjust="spacingAndGlyphs">1个工作日</text>
<rect class="dp" x="999.2" y="681.4" width="224.5" height="15.7" rx="4"/>
<text class="g" x="1019.6" y="688.5" font-size="10" textLength="150.4" lengthAdjust="spacingAndGlyphs">砍伐、迁移城市树木（城综部门）</text>
<text class="b" x="1175.7" y="690" font-size="7" textLength="30.4" lengthAdjust="spacingAndGlyphs">1个工作日</text>
<rect class="dp" x="999.2" y="699.8" width="224.5" height="25.4" rx="4"/>
<text class="g" x="1009.2" y="706.8" font-size="10" textLength="207.3" lengthAdjust="spacingAndGlyphs">因工程建设确需改装、拆除或者迁移城市公共</text>
<text class="g" x="1035.6" y="719.4" font-size="10" textLength="117.6" lengthAdjust="spacingAndGlyphs">供水设施审批（城综部门）</text>
<text class="b" x="1159.6" y="720.7" font-size="7" textLength="30.5" lengthAdjust="spacingAndGlyphs">1个工作日</text>
<rect class="dp" x="999.2" y="727.3" width="224.5" height="20.4" rx="4"/>
<text class="g" x="1006" y="737" font-size="10" textLength="181.7" lengthAdjust="spacingAndGlyphs">对水利工程开工情况的备案（水务部门）</text>
<text class="b" x="1194.1" y="735.2" font-size="7" textLength="29.6" lengthAdjust="spacingAndGlyphs">3个工作日</text>
<rect class="dp" x="999.2" y="749.6" width="224.5" height="24.4" rx="4"/>
<text class="g" x="1010" y="755.6" font-size="10" textLength="207.3" lengthAdjust="spacingAndGlyphs">污水排入排水管网许可证核发（新办） （城综</text>
<text class="g" x="1082.8" y="767.9" font-size="10" textLength="25.6" lengthAdjust="spacingAndGlyphs">部门）</text>
<text class="b" x="1113.2" y="768.7" font-size="7" textLength="30.4" lengthAdjust="spacingAndGlyphs">1个工作日</text>
<rect class="dp" x="999.2" y="778.4" width="224.5" height="22.3" rx="4"/>
<text class="g" x="1045.2" y="789.7" font-size="10" textLength="93.6" lengthAdjust="spacingAndGlyphs">用电报装（供电公司）</text>
<text class="b" x="1148.4" y="790.7" font-size="7" textLength="30.5" lengthAdjust="spacingAndGlyphs">3个工作日</text>
<rect class="dp" x="999.2" y="802.8" width="224.5" height="22" rx="4"/>
<text class="g" x="1024.4" y="813.8" font-size="10" textLength="140.9" lengthAdjust="spacingAndGlyphs">用水报装和接入（自来水公司）</text>
<text class="b" x="1169.3" y="814.6" font-size="7" textLength="30.4" lengthAdjust="spacingAndGlyphs">3个工作日</text>
<rect class="dp" x="999.2" y="830.9" width="224.5" height="25.4" rx="4"/>
<text class="g" x="1017.2" y="837.4" font-size="10" textLength="189.7" lengthAdjust="spacingAndGlyphs">非居民用气报装-新建楼盘商业综合体用户</text>
<text class="g" x="1086" y="850" font-size="10" textLength="52.8" lengthAdjust="spacingAndGlyphs">（燃气公司）</text>
<text class="b" x="1178.1" y="851.8" font-size="7" textLength="29.6" lengthAdjust="spacingAndGlyphs">1个工作日</text>
<rect x="999.2" y="866.8" width="224.5" height="25.7" rx="4" fill="none" stroke="#E6A0A0" stroke-width="1" stroke-dasharray="8 4"/>
<text class="g" x="1003.6" y="873.6" font-size="10" textLength="217.2" lengthAdjust="spacingAndGlyphs">有线数字电视网络配套工程建设及验收（广播电</text>
<text class="g" x="1076.1" y="885.9" font-size="10" textLength="33.9" lengthAdjust="spacingAndGlyphs">视公司）</text>
<text class="b" x="1117.2" y="887.2" font-size="7" textLength="30.4" lengthAdjust="spacingAndGlyphs">1个工作日</text>
<rect class="dp" x="999.2" y="899.8" width="224.5" height="25.5" rx="4"/>
<text class="g" x="1002.8" y="906.4" font-size="10" textLength="217.7" lengthAdjust="spacingAndGlyphs">住宅区、住宅建筑、商业建筑光纤到户通信设施</text>
<text class="g" x="1029.2" y="918.7" font-size="10" textLength="129.6" lengthAdjust="spacingAndGlyphs">建设工程验收备案（通建办）</text>
<text class="b" x="1163.7" y="920" font-size="7" textLength="30.4" lengthAdjust="spacingAndGlyphs">3个工作日</text>
</g>

<g id="parallel4">
<rect x="1238.8" y="688.2" width="302.9" height="132.8" fill="#fff" stroke="#00B050" stroke-width="1.8"/>
<text class="b" x="1296.4" y="697.3" font-size="11" textLength="185.6" lengthAdjust="spacingAndGlyphs">第四阶段可并行办理事项（按需办理）</text>
<rect class="dg" x="1255.4" y="716.4" width="270.3" height="16.1" rx="5" style="stroke-dasharray:8 4"/>
<text class="g" x="1285.7" y="724.4" font-size="10.3" textLength="175" lengthAdjust="spacingAndGlyphs">对取水工程或者设施的验收(水务部门)</text>
<text class="b" x="1462.2" y="725" font-size="7.5" textLength="34.1" lengthAdjust="spacingAndGlyphs">13个工作日</text>
<rect class="dg" x="1255.4" y="738.5" width="270.3" height="16.1" rx="5" style="stroke-dasharray:8 4"/>
<text class="g" x="1293.2" y="746.6" font-size="10.3" textLength="164.3" lengthAdjust="spacingAndGlyphs">雷电防护装置竣工验收（气象部门）</text>
<text class="b" x="1459.2" y="747" font-size="7.5" textLength="30.3" lengthAdjust="spacingAndGlyphs">1个工作日</text>
<rect class="dg" x="1255.4" y="760.7" width="270.3" height="16.1" rx="5" style="stroke-dasharray:8 4"/>
<text class="g" x="1269.3" y="769.1" font-size="10.3" textLength="205.2" lengthAdjust="spacingAndGlyphs">对水利工程建设项目的政府验收（水务部门）</text>
<text class="b" x="1477.3" y="769.5" font-size="7.5" textLength="34.6" lengthAdjust="spacingAndGlyphs">13个工作日</text>
<rect class="dg" x="1255.4" y="790.8" width="270.3" height="16.2" rx="5" style="stroke-dasharray:8 4"/>
<text class="g" x="1271.9" y="798.9" font-size="10.3" textLength="204.8" lengthAdjust="spacingAndGlyphs">对水土保持设施验收材料的报备（水务部门）</text>
<text class="b" x="1478.8" y="799.3" font-size="7.5" textLength="30.9" lengthAdjust="spacingAndGlyphs">2个工作日</text>
</g>

<g id="notes">
<text class="b" x="1246.7" y="830.1" font-size="12" textLength="26.2" lengthAdjust="spacingAndGlyphs">备注：</text>
<text class="d" x="1246.7" y="843.8" font-size="11.5" textLength="287.6" lengthAdjust="spacingAndGlyphs">1. 本流程图示范文本适用于房屋建筑和市政基础设施工程</text>
<text class="d" x="1246.7" y="857.3" font-size="11.5" textLength="287.6" lengthAdjust="spacingAndGlyphs">建设项目（不包括特殊工程和交通、水利、能源等领域的</text>
<text class="d" x="1246.7" y="870.7" font-size="11.5" textLength="51.8" lengthAdjust="spacingAndGlyphs">重大工程）</text>
<text class="d" x="1246.7" y="884.8" font-size="11.5" textLength="287.6" lengthAdjust="spacingAndGlyphs">2. 流程图包括工程建设项目审批主要事项，未涵盖所有事</text>
<text class="d" x="1246.7" y="898.5" font-size="11.5">项；</text>
<text class="d" x="1246.7" y="913" font-size="11.5" textLength="287.6" lengthAdjust="spacingAndGlyphs">3. 竣工验收阶段实施内容及参与部门以市房屋建筑和市政</text>
<text class="d" x="1246.7" y="926.7" font-size="11.5" textLength="188.4" lengthAdjust="spacingAndGlyphs">基础设施工程联合验收管理办法为准；</text>
<text class="d" x="1246.7" y="940.7" font-size="11.5" textLength="287.6" lengthAdjust="spacingAndGlyphs">4. 施工图联合审查实施内容及参与部门以市房屋建筑和市</text>
<text class="d" x="1246.7" y="954.4" font-size="11.5" textLength="236.4" lengthAdjust="spacingAndGlyphs">政基础设施工程施工图联合审查管理办法为准。</text>
<text class="d" x="1246.7" y="967.9" font-size="11.5" textLength="287.6" lengthAdjust="spacingAndGlyphs">5. 阶段审批时间含中介服务时间，不包括公示、召开听证</text>
<text class="d" x="1246.7" y="982" font-size="11.5" textLength="86" lengthAdjust="spacingAndGlyphs">会和论证会时间。</text>
</g>

<g id="connectors">
<path d="M270.1,41.1V439" fill="none" stroke="#0099FF" stroke-width="2" marker-end="url(#ab)"/>
<path d="M760.2,41.4V409" fill="none" stroke="#FF0000" stroke-width="1.8" marker-end="url(#ar)"/>
<path d="M1028,41.4V409" fill="none" stroke="#7030A0" stroke-width="2.2" marker-end="url(#ap)"/>
<path d="M1273.6,41V409.6" fill="none" stroke="#00B050" stroke-width="2.2" marker-end="url(#ag)"/>
<path d="M1151,255V379.4" fill="none" stroke="#7030A0" stroke-width="2.2" marker-end="url(#ap)"/>
<path d="M1388.8,259.8V302.7" fill="none" stroke="#00B050" stroke-width="2.2" marker-end="url(#ag)"/>
<path d="M878.1,396.2V417" fill="none" stroke="#FF0000" stroke-width="1.6" marker-end="url(#ar)"/>
<path class="yl" d="M125,126.8V158.8H212.6V466.5"/>
<path class="yl" d="M129.4,275.7V383H204.7V466.5"/>
<path class="yl" d="M204,709.6V470.5"/>
<path class="yl" d="M194.3,468.4H249"/>
<path d="M283,468.4H292" fill="none" stroke="#FFC000" stroke-width="1.6" marker-end="url(#ays)"/>
<path class="yl" d="M706,431.7H736.3"/>
<path class="yl" d="M785,434.5H812.2"/>
<path class="yl" d="M943.7,434.8H1003.7"/>
<path class="yl" d="M1052.4,434.8H1085.5"/>
<path class="yl" d="M1216.3,436.3H1248.3"/>
<path class="yl" d="M1298.4,436.4H1314.2"/>
<path class="yl" d="M1462.7,461V466.8H1489.7"/>
<path class="yl" d="M1185.8,113.5H1269a4.6,4.6 0 0 1 9.2,0H1429.2"/>
</g>

</g>
</svg>
